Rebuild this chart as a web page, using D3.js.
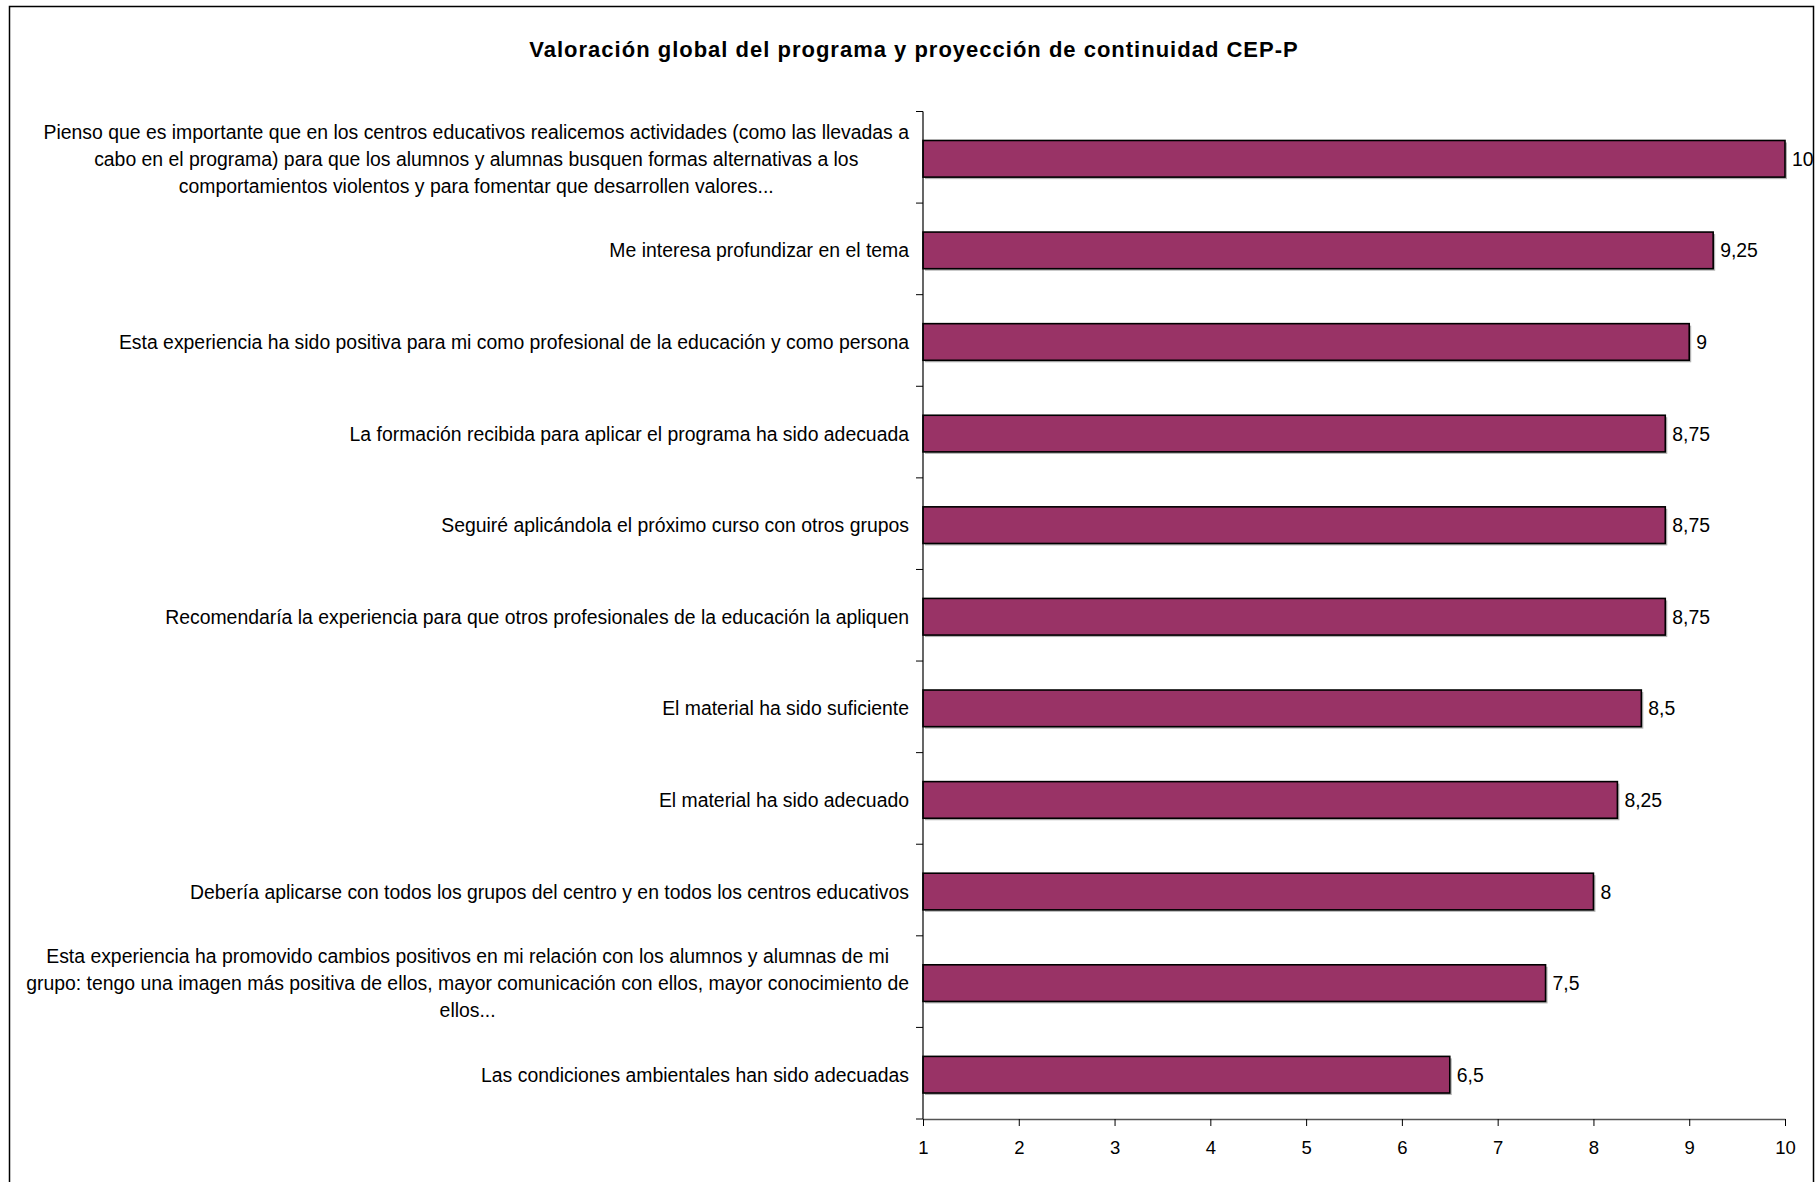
<!DOCTYPE html>
<html>
<head>
<meta charset="utf-8">
<script src="https://cdn.jsdelivr.net/npm/d3@7/dist/d3.min.js"></script>
<style>
  html, body { margin: 0; padding: 0; background: #fff; }
  svg { display: block; }
  text { font-family: "Liberation Sans", Arial, sans-serif; fill: #000; }
</style>
</head>
<body>
<script>
// Survey items (top to bottom); "\n" marks the line breaks of long items
const categories = [
  "Pienso que es importante que en los centros educativos realicemos actividades (como las llevadas a\ncabo en el programa) para que los alumnos y alumnas busquen formas alternativas a los\ncomportamientos violentos y para fomentar que desarrollen valores...",
  "Me interesa profundizar en el tema",
  "Esta experiencia ha sido positiva para mi como profesional de la educación y como persona",
  "La formación recibida para aplicar el programa ha sido adecuada",
  "Seguiré aplicándola el próximo curso con otros grupos",
  "Recomendaría la experiencia para que otros profesionales de la educación la apliquen",
  "El material ha sido suficiente",
  "El material ha sido adecuado",
  "Debería aplicarse con todos los grupos del centro y en todos los centros educativos",
  "Esta experiencia ha promovido cambios positivos en mi relación con los alumnos y alumnas de mi\ngrupo: tengo una imagen más positiva de ellos, mayor comunicación con ellos, mayor conocimiento de\nellos...",
  "Las condiciones ambientales han sido adecuadas"
];
const values = [10, 9.25, 9, 8.75, 8.75, 8.75, 8.5, 8.25, 8, 7.5, 6.5];
const xTicks = [1, 2, 3, 4, 5, 6, 7, 8, 9, 10];
const title = "Valoración global del programa y proyección de continuidad CEP-P";

const W = 1818, H = 1182;
const plot = { left: 923, right: 1785, top: 111.5, bottom: 1119 };
const fontSize = 19.4;

const es = d3.formatLocale({ decimal: ",", thousands: ".", grouping: [3], currency: ["", " €"] });
const fmt = es.format("~g");

const svg = d3.select("body").append("svg").attr("width", W).attr("height", H);

// chart frame
svg.append("rect")
  .attr("x", 9.5).attr("y", 6.5).attr("width", 1804).attr("height", 1190)
  .attr("fill", "#fff").attr("stroke", "#000").attr("stroke-width", 1.5);

svg.append("text")
  .attr("x", 914).attr("y", 49)
  .attr("text-anchor", "middle").attr("dominant-baseline", "central")
  .attr("font-weight", "bold").attr("font-size", 22).attr("letter-spacing", 1)
  .text(title);

const x = d3.scaleLinear().domain([1, 10]).range([plot.left, plot.right]);
const y = d3.scaleBand().domain(d3.range(categories.length))
  .range([plot.top + 1.5, plot.bottom + 1.5]).paddingInner(0.6).paddingOuter(0.3);
const slot = d3.scaleBand().domain(d3.range(categories.length))
  .range([plot.top, plot.bottom]).padding(0);

// bar shadows
svg.append("g").selectAll("rect").data(values).join("rect")
  .attr("x", x(1) + 2).attr("y", (d, i) => y(i) + 2)
  .attr("width", d => x(d) - x(1)).attr("height", y.bandwidth())
  .attr("fill", "#b3b3b3");

// bars
svg.append("g").selectAll("rect").data(values).join("rect")
  .attr("x", x(1)).attr("y", (d, i) => y(i))
  .attr("width", d => x(d) - x(1)).attr("height", y.bandwidth())
  .attr("fill", "#993366").attr("stroke", "#000").attr("stroke-width", 1.6);

// value labels
svg.append("g").selectAll("text").data(values).join("text")
  .attr("x", d => x(d) + 7).attr("y", (d, i) => y(i) + y.bandwidth() / 2)
  .attr("dominant-baseline", "central").attr("font-size", fontSize)
  .text(d => fmt(d));

// y axis: line and ticks on slot boundaries
const yAxis = svg.append("g");
yAxis.append("line")
  .attr("x1", plot.left).attr("x2", plot.left)
  .attr("y1", plot.top).attr("y2", plot.bottom)
  .attr("stroke", "#000").attr("stroke-width", 1.2);
yAxis.selectAll("line.tick").data(d3.range(categories.length + 1)).join("line")
  .attr("class", "tick")
  .attr("x1", plot.left - 7).attr("x2", plot.left)
  .attr("y1", i => plot.top + i * slot.step()).attr("y2", i => plot.top + i * slot.step())
  .attr("stroke", "#000").attr("stroke-width", 1);

// category labels: single lines end at labelRight; wrapped items are centred
// within a block whose widest line ends at labelRight
const lineH = 27;
const labelRight = 909;
svg.append("g").selectAll("text").data(categories).join("text")
  .attr("font-size", fontSize)
  .each(function (d, i) {
    const lines = d.split("\n");
    const cy = y(i) + y.bandwidth() / 2;
    const t = d3.select(this).attr("text-anchor", "middle");
    const spans = lines.map((ln, k) => t.append("tspan")
      .attr("y", cy + (k - (lines.length - 1) / 2) * lineH)
      .attr("dominant-baseline", "central")
      .text(ln));
    const maxW = d3.max(spans, s => s.node().getComputedTextLength());
    spans.forEach(s => s.attr("x", labelRight - maxW / 2));
  });

// x axis
const xAxis = svg.append("g").attr("transform", `translate(0,${plot.bottom})`)
  .call(d3.axisBottom(x).tickValues(xTicks).tickFormat(d3.format("d")).tickSize(7).tickSizeOuter(0).tickPadding(15));
xAxis.select(".domain").attr("stroke", "#555").attr("stroke-width", 1.5);
xAxis.selectAll(".tick line").attr("stroke", "#000");
xAxis.selectAll(".tick text").attr("font-size", 18.5).attr("font-family", "Liberation Sans, Arial, sans-serif").attr("fill", "#000");
</script>
</body>
</html>
